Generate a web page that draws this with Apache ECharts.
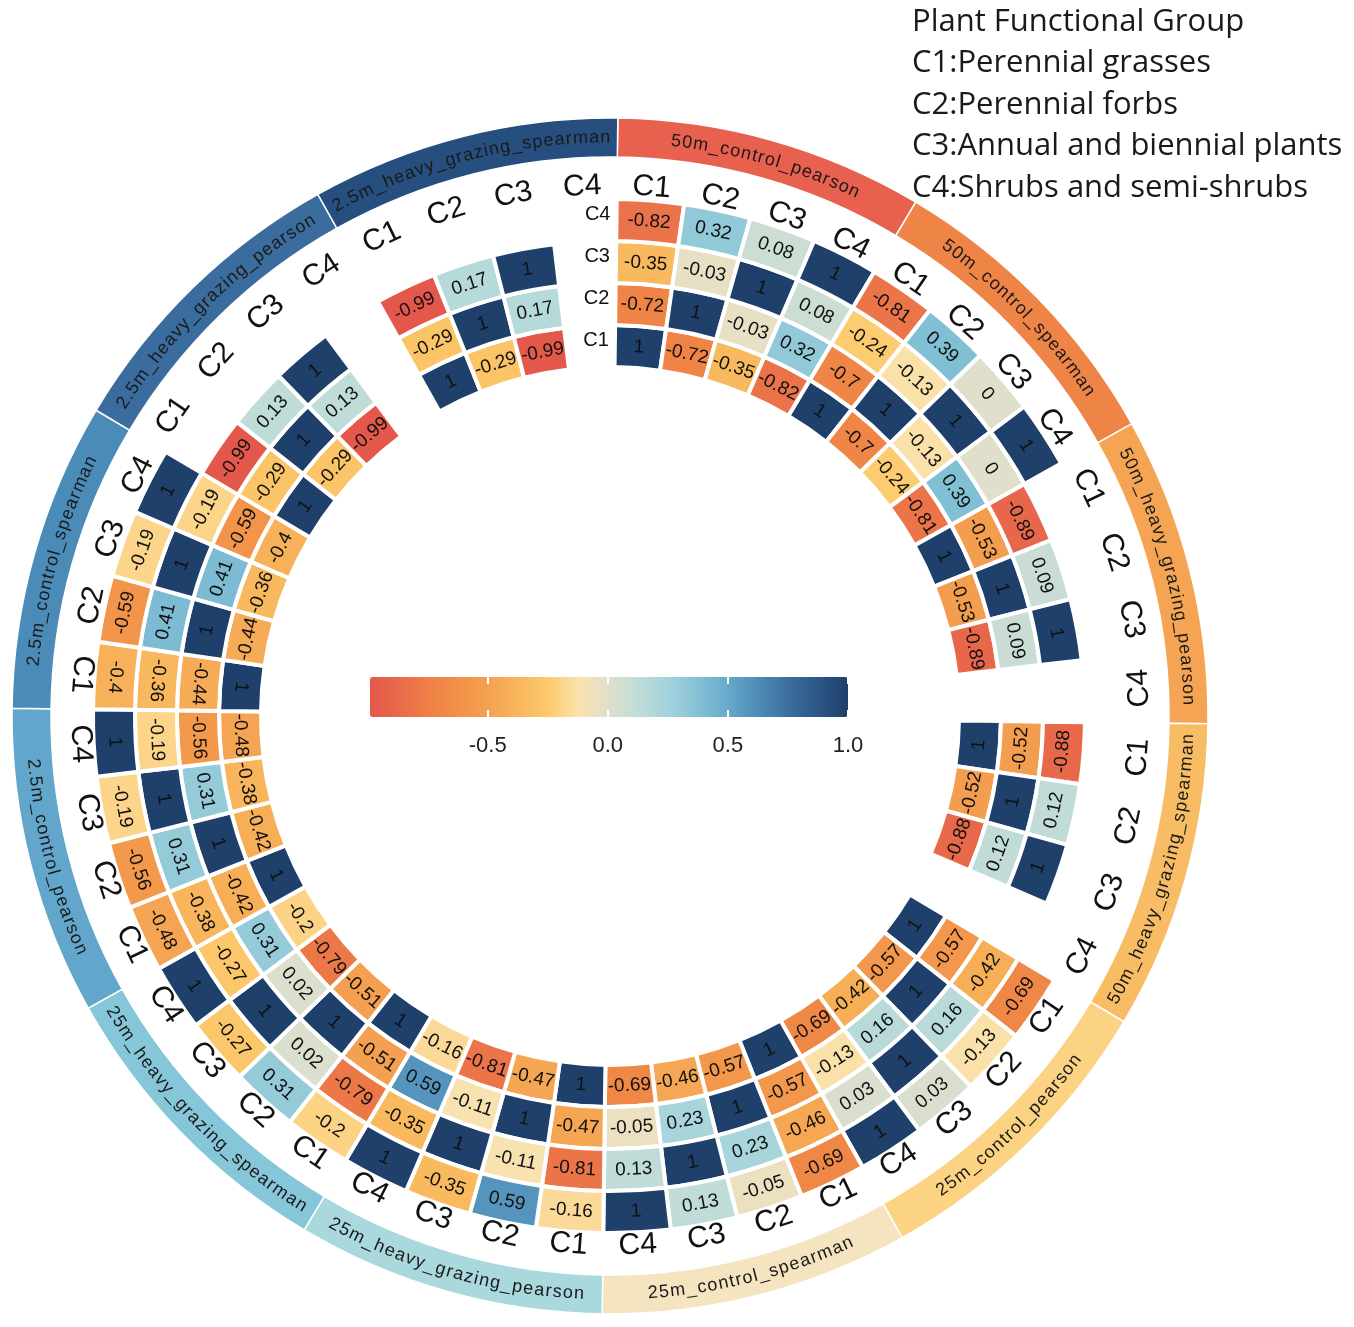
<!DOCTYPE html>
<html><head><meta charset="utf-8">
<script src="https://cdn.jsdelivr.net/npm/echarts@6/dist/echarts.min.js"></script>
<style>html,body{margin:0;padding:0;background:#fff}#c{width:1354px;height:1327px}</style>
</head><body><div id="c"></div>
<script>
// ---------------- data ----------------
const groups = ['C1', 'C2', 'C3', 'C4'];
const sectorNames = [
  '50m_control_pearson', '50m_control_spearman',
  '50m_heavy_grazing_pearson', '50m_heavy_grazing_spearman',
  '25m_control_pearson', '25m_control_spearman',
  '25m_heavy_grazing_pearson', '25m_heavy_grazing_spearman',
  '2.5m_control_pearson', '2.5m_control_spearman',
  '2.5m_heavy_grazing_pearson', '2.5m_heavy_grazing_spearman'
];
const m50ControlPearson = [[1, -0.72, -0.35, -0.82], [-0.72, 1, -0.03, 0.32], [-0.35, -0.03, 1, 0.08], [-0.82, 0.32, 0.08, 1]];
const m50ControlSpearman = [[1, -0.7, -0.24, -0.81], [-0.7, 1, -0.13, 0.39], [-0.24, -0.13, 1, 0], [-0.81, 0.39, 0, 1]];
const m50HeavyPearson = [[1, -0.53, -0.89], [-0.53, 1, 0.09], [-0.89, 0.09, 1]];
const m50HeavySpearman = [[1, -0.52, -0.88], [-0.52, 1, 0.12], [-0.88, 0.12, 1]];
const m25ControlPearson = [[1, -0.57, -0.42, -0.69], [-0.57, 1, 0.16, -0.13], [-0.42, 0.16, 1, 0.03], [-0.69, -0.13, 0.03, 1]];
const m25ControlSpearman = [[1, -0.57, -0.46, -0.69], [-0.57, 1, 0.23, -0.05], [-0.46, 0.23, 1, 0.13], [-0.69, -0.05, 0.13, 1]];
const m25HeavyPearson = [[1, -0.47, -0.81, -0.16], [-0.47, 1, -0.11, 0.59], [-0.81, -0.11, 1, -0.35], [-0.16, 0.59, -0.35, 1]];
const m25HeavySpearman = [[1, -0.51, -0.79, -0.2], [-0.51, 1, 0.02, 0.31], [-0.79, 0.02, 1, -0.27], [-0.2, 0.31, -0.27, 1]];
const m2_5ControlPearson = [[1, -0.42, -0.38, -0.48], [-0.42, 1, 0.31, -0.56], [-0.38, 0.31, 1, -0.19], [-0.48, -0.56, -0.19, 1]];
const m2_5ControlSpearman = [[1, -0.44, -0.36, -0.4], [-0.44, 1, 0.41, -0.59], [-0.36, 0.41, 1, -0.19], [-0.4, -0.59, -0.19, 1]];
const m2_5HeavyPearson = [[1, -0.29, -0.99], [-0.29, 1, 0.13], [-0.99, 0.13, 1]];
const m2_5HeavySpearman = [[1, -0.29, -0.99], [-0.29, 1, 0.17], [-0.99, 0.17, 1]];
const matrices = [m50ControlPearson, m50ControlSpearman, m50HeavyPearson, m50HeavySpearman,
  m25ControlPearson, m25ControlSpearman, m25HeavyPearson, m25HeavySpearman,
  m2_5ControlPearson, m2_5ControlSpearman, m2_5HeavyPearson, m2_5HeavySpearman];
const colorTicks = [-0.5, 0, 0.5, 1.0];
const colorMin = -0.99, colorMax = 1;
const legendTitle = 'Plant Functional Group';
const legendLines = ['C1:Perennial grasses', 'C2:Perennial forbs', 'C3:Annual and biennial plants', 'C4:Shrubs and semi-shrubs'];

// ---------------- styles / layout ----------------
const bandColors = ['#E8604E', '#EE8446', '#F4A452', '#F8BD64', '#FCD283', '#F4E4C0',
  '#A9D8DD', '#86C6D9', '#62A7CB', '#4B8BB8', '#3A6C9E', '#264F80'];
const palette = ['#E4574B', '#E96B4A', '#EE8146', '#F19148', '#F4A251', '#F8B75C', '#FDCB6E', '#FAE2AE',
  '#DFDFCC', '#BFDCD8', '#A3D2DC', '#84C1D6', '#66A9CB', '#4E8CB7', '#3B6F9F', '#2C5785', '#1E406B'];
const CX = 610, CY = 716;
const SECTOR_DEG = 30, SLOT_DEG = 7.5, ANGLE_OFFSET = 0.75;
const RING0 = 370, RING_STEP = 42;
const BAND_R0 = 559, BAND_R1 = 598, BAND_TEXT_R = 578.5;
const COL_LABEL_R = 530;
const FONT = '"Liberation Sans", Arial, sans-serif';
const BAND_FONT_SIZE = 18, BAND_LETTER_SPACING = 1.2;

const cellData = [];
matrices.forEach((m, s) => m.forEach((row, r) => row.forEach((v, c) => cellData.push([s, c, r, v]))));
const bandData = sectorNames.map((n, i) => [i, 0]);

function angOf(s, c) { return ANGLE_OFFSET + s * SECTOR_DEG + SLOT_DEG * (c + 0.5); }
function ringOf(r) { return RING0 + r * RING_STEP; }
function norm(d) { return ((d % 360) + 360) % 360; }
function isFlip(deg) { const d = norm(deg); return d > 80 && d < 280; }
function textRot(deg, flip) {
  const d = norm(deg);
  if (flip === undefined) flip = isFlip(d);
  return (flip ? 180 - d : -d) * Math.PI / 180;
}

function sectorShape(api, cx, cy, rIn, rOut, degA, degB) {
  const e0 = api.coord([(rIn + rOut) / 2, degA]), e1 = api.coord([(rIn + rOut) / 2, degB]);
  const a0 = Math.atan2(e0[1] - cy, e0[0] - cx);
  let a1 = Math.atan2(e1[1] - cy, e1[0] - cx);
  while (a1 <= a0) a1 += 2 * Math.PI;
  const pi = api.coord([rIn, degA]), po = api.coord([rOut, degA]);
  return { cx, cy, r0: Math.hypot(pi[0] - cx, pi[1] - cy), r: Math.hypot(po[0] - cx, po[1] - cy),
    startAngle: a0, endAngle: a1, clockwise: true };
}

function renderCell(params, api) {
  const s = api.value(0), c = api.value(1), r = api.value(2), v = api.value(3);
  const cx = params.coordSys.cx, cy = params.coordSys.cy;
  const ang = angOf(s, c), rc = ringOf(r);
  const pc = api.coord([rc, ang]);
  return { type: 'group', children: [
    { type: 'sector', shape: sectorShape(api, cx, cy, rc - RING_STEP / 2, rc + RING_STEP / 2, ang - SLOT_DEG / 2, ang + SLOT_DEG / 2),
      style: { fill: api.visual('color'), stroke: '#fff', lineWidth: 4 } },
    { type: 'text', x: pc[0], y: pc[1], rotation: textRot(ang), z2: 5,
      style: { text: String(v), fill: '#111', fontSize: 19, fontFamily: FONT, align: 'center', verticalAlign: 'middle' } }
  ] };
}

const mctx = document.createElement('canvas').getContext('2d');
mctx.font = BAND_FONT_SIZE + 'px ' + FONT;

function renderBand(params, api) {
  const s = api.value(0);
  const cx = params.coordSys.cx, cy = params.coordSys.cy;
  const d0 = ANGLE_OFFSET + s * SECTOR_DEG, d1 = d0 + SECTOR_DEG, mid = (d0 + d1) / 2;
  const children = [];
  children.push({ type: 'sector', shape: sectorShape(api, cx, cy, BAND_R0, BAND_R1, d0, d1),
    style: { fill: bandColors[s], stroke: '#fff', lineWidth: 1.5 } });
  // curved sector name
  const chars = Array.from(sectorNames[s]);
  const widths = chars.map(ch => mctx.measureText(ch).width + BAND_LETTER_SPACING);
  const total = widths.reduce((a, b) => a + b, 0);
  const k = 180 / Math.PI / BAND_TEXT_R;
  const flip = isFlip(mid);
  let cum = 0;
  chars.forEach((ch, i) => {
    const off = (cum + widths[i] / 2 - total / 2) * k;
    const deg = flip ? mid - off : mid + off;
    const p = api.coord([BAND_TEXT_R, deg]);
    children.push({ type: 'text', x: p[0], y: p[1], rotation: textRot(deg, flip),
      style: { text: ch, fill: '#1a1a1a', fontSize: BAND_FONT_SIZE, fontFamily: FONT, align: 'center', verticalAlign: 'middle' } });
    cum += widths[i];
  });
  // column labels
  groups.forEach((g, c) => {
    const ang = angOf(s, c);
    const p = api.coord([COL_LABEL_R, ang]);
    children.push({ type: 'text', x: p[0], y: p[1], rotation: textRot(ang),
      style: { text: g, fill: '#111', fontSize: 30, fontFamily: FONT, align: 'center', verticalAlign: 'middle' } });
  });
  // row labels (once, at the start of the first sector)
  if (s === 0) {
    groups.forEach((g, r) => {
      const p = api.coord([ringOf(r), d0]);
      children.push({ type: 'text', x: p[0] - 6, y: p[1] - 6,
        style: { text: g, fill: '#111', fontSize: 20, fontFamily: FONT, align: 'right', verticalAlign: 'middle' } });
    });
  }
  return { type: 'group', children };
}

const chart = echarts.init(document.getElementById('c'));
chart.setOption({
  animation: false,
  backgroundColor: '#ffffff',
  polar: { center: [CX, CY], radius: BAND_R1 },
  angleAxis: { type: 'value', min: 0, max: 360, startAngle: 90, clockwise: true, show: false,
    axisLine: { show: false }, splitLine: { show: false }, axisLabel: { show: false }, axisTick: { show: false } },
  radiusAxis: { type: 'value', min: 0, max: BAND_R1, show: false,
    axisLine: { show: false }, splitLine: { show: false }, axisLabel: { show: false }, axisTick: { show: false } },
  grid: { left: 370, top: 677, width: 478, height: 40 },
  xAxis: [
    { type: 'value', min: colorMin, max: colorMax, position: 'bottom', z: 10,
      axisLine: { show: false }, splitLine: { show: false },
      axisTick: { show: true, inside: true, length: 7, lineStyle: { color: '#fff', width: 2 }, customValues: colorTicks },
      axisLabel: { show: true, customValues: colorTicks, formatter: v => Number(v).toFixed(1), fontSize: 22, color: '#222', fontFamily: FONT, margin: 18 } },
    { type: 'value', min: colorMin, max: colorMax, position: 'top', z: 10,
      axisLine: { show: false }, splitLine: { show: false }, axisLabel: { show: false },
      axisTick: { show: true, inside: true, length: 7, lineStyle: { color: '#fff', width: 2 }, customValues: colorTicks } }
  ],
  yAxis: { type: 'value', show: false, min: 0, max: 1 },
  visualMap: {
    type: 'continuous', min: colorMin, max: colorMax, orient: 'horizontal',
    left: 370, top: 677, itemWidth: 40, itemHeight: 478, padding: 0,
    calculable: false, hoverLink: false, text: null, seriesIndex: 0, dimension: 3,
    inRange: { color: palette }
  },
  graphic: [{
    type: 'text', left: 912, top: 1,
    style: { text: [legendTitle].concat(legendLines).join('\n'), fill: '#1a1a1a',
      fontSize: 31, fontFamily: '"Open Sans", "Noto Sans", sans-serif', lineHeight: 41.5 }
  }],
  series: [
    { type: 'custom', coordinateSystem: 'polar', data: cellData, renderItem: renderCell, silent: true },
    { type: 'custom', coordinateSystem: 'polar', data: bandData, renderItem: renderBand, silent: true }
  ]
});
</script></body></html>
